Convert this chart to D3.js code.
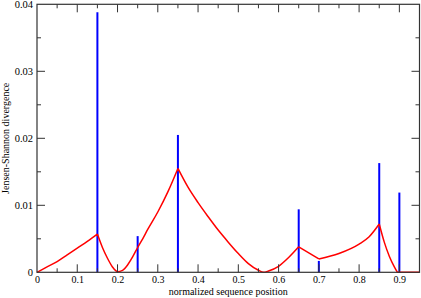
<!DOCTYPE html>
<html><head><meta charset="utf-8">
<script src="https://cdn.jsdelivr.net/npm/d3@7"></script>
<style>body{margin:0;background:#fff}svg{display:block}text{font-family:"Liberation Serif","DejaVu Serif","Times New Roman",serif}</style>
</head><body>
<svg id="c" width="421" height="298"></svg>
<script>
const redX = [0,0.025,0.05,0.075,0.1,0.125,0.15,0.1625,0.175,0.1875,0.2,0.2125,0.225,0.2375,0.25,0.2625,0.275,0.3,0.325,0.35,0.375,0.4,0.425,0.45,0.475,0.5,0.525,0.55,0.5625,0.575,0.6,0.625,0.65,0.7,0.75,0.8,0.825,0.85,0.8625,0.875,0.8875,0.895,0.95];
const redY = [0,0.0008,0.0016,0.0026,0.0036,0.0046,0.0057,0.0037,0.0021,0.0008,0.0001,0.0003,0.0011,0.0023,0.0037,0.0050,0.0064,0.0090,0.0120,0.0155,0.0127,0.0104,0.0083,0.0063,0.0045,0.0028,0.0013,0.0003,0.0000,0.0002,0.0009,0.0022,0.0038,0.0020,0.0028,0.0042,0.0053,0.0072,0.0045,0.0024,0.0008,0.0000,0];
const redKinks = [0.15,0.35,0.65,0.7,0.85,0.895];
const barX = [0.15,0.25,0.35,0.65,0.7,0.85,0.9];
const barY = [0.0388,0.0054,0.0205,0.0094,0.0017,0.0163,0.0119];
const xTicks = [0,0.1,0.2,0.3,0.4,0.5,0.6,0.7,0.8,0.9];
const xTickLabels = ["0","0.1","0.2","0.3","0.4","0.5","0.6","0.7","0.8","0.9"];
const yTicks = [0,0.01,0.02,0.03,0.04];
const yTickLabels = ["0","0.01","0.02","0.03","0.04"];

const svg = d3.select("#c");
const L=37,R=419.5,T=4.3,B=272.3;
const x = d3.scaleLinear().domain([0,0.95]).range([L,R]);
const y = d3.scaleLinear().domain([0,0.04]).range([B,T]);
const font = '"Liberation Serif","DejaVu Serif","Times New Roman",serif';
const ink = "#000";

svg.append("g").selectAll("line").data(barX).join("line")
  .attr("x1",d=>x(d)).attr("x2",d=>x(d))
  .attr("y1",y(0)).attr("y2",(d,i)=>y(barY[i]))
  .attr("stroke","#0000ff").attr("stroke-width",2);

// split red series at kinks, smooth each piece
const pts = redX.map((d,i)=>[d,redY[i]]);
const bounds = [0,...redKinks,0.95];
const segs = [];
for (let k=0;k<bounds.length-1;k++){
  segs.push(pts.filter(p=>p[0]>=bounds[k]-1e-9 && p[0]<=bounds[k+1]+1e-9));
}
const line = d3.line().x(d=>x(d[0])).y(d=>y(d[1])).curve(d3.curveMonotoneX);
const path = segs.map(s=>line(s)).join("");
svg.append("path").attr("d",path)
  .attr("fill","none").attr("stroke","#ff0000").attr("stroke-width",1.5)
  .attr("stroke-linejoin","round");

svg.append("rect").attr("x",L).attr("y",T).attr("width",R-L).attr("height",B-T)
  .attr("fill","none").attr("stroke","#333").attr("stroke-width",1.2);

const xMinor = d3.range(0,19).map(i=>i*0.05);
const yMinor = d3.range(0,9).map(i=>i*0.005);
const g = svg.append("g").attr("stroke","#333").attr("stroke-width",1);
xMinor.forEach(v=>{
  const major = Math.abs(v*10-Math.round(v*10))<1e-6;
  const len = major?8:4;
  if (v===0) return;
  g.append("line").attr("x1",x(v)).attr("x2",x(v)).attr("y1",B).attr("y2",B-len);
  g.append("line").attr("x1",x(v)).attr("x2",x(v)).attr("y1",T).attr("y2",T+len);
});
yMinor.forEach(v=>{
  const major = Math.abs(v*100-Math.round(v*100))<1e-6;
  const len = major?8:4;
  if (v===0||v>=0.04) return;
  g.append("line").attr("x1",L).attr("x2",L+len).attr("y1",y(v)).attr("y2",y(v));
  g.append("line").attr("x1",R).attr("x2",R-len).attr("y1",y(v)).attr("y2",y(v));
});

const xAxis = d3.axisBottom(x).tickValues(xTicks).tickSize(0).tickPadding(3.5)
  .tickFormat((d,i)=>xTickLabels[i]);
const gx = svg.append("g").attr("transform",`translate(0,${B})`).call(xAxis)
  .attr("font-family",font);
gx.select(".domain").remove();
gx.selectAll("text").style("font-family",font).attr("font-size",10).attr("fill",ink).attr("dy","0.71em");

const yAxis = d3.axisLeft(y).tickValues(yTicks).tickSize(0).tickPadding(4)
  .tickFormat((d,i)=>yTickLabels[i]);
const gy = svg.append("g").attr("transform",`translate(${L},0)`).call(yAxis)
  .attr("font-family",font);
gy.select(".domain").remove();
gy.selectAll("text").style("font-family",font).attr("font-size",10.5).attr("fill",ink);

svg.append("text").attr("x",(L+R)/2).attr("y",294.5).attr("text-anchor","middle")
  .style("font-family",font).attr("font-size",10).attr("fill",ink)
  .text("normalized sequence position");
svg.append("text").attr("transform",`translate(9,${(T+B)/2}) rotate(-90)`)
  .attr("text-anchor","middle").style("font-family",font).attr("font-size",10).attr("fill",ink)
  .text("Jensen-Shannon divergence");
</script>
</body></html>
